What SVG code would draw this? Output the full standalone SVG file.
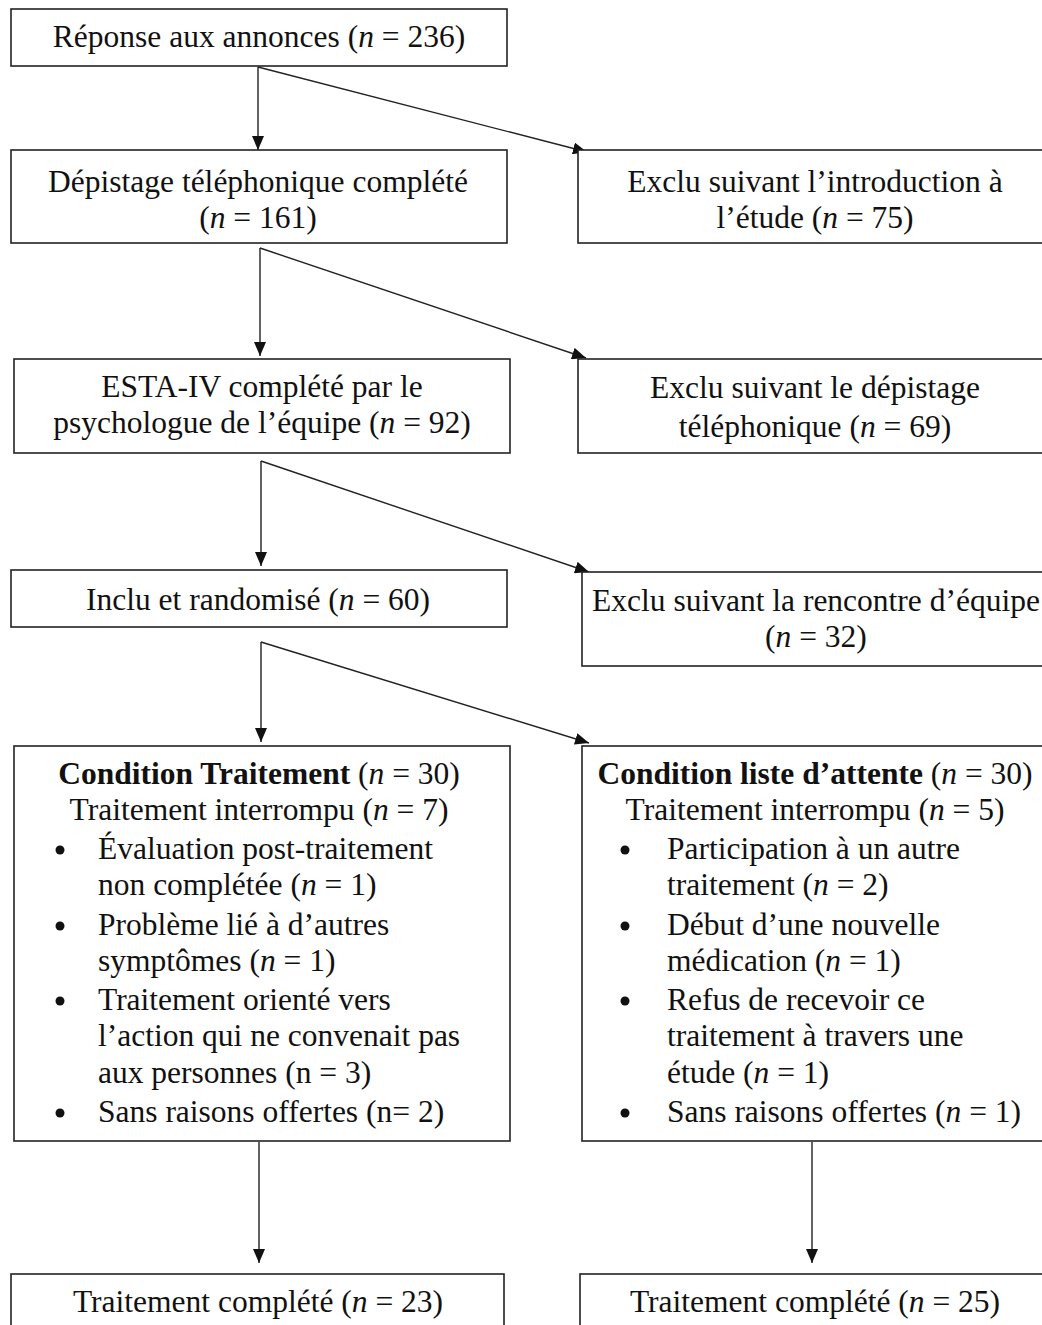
<svg xmlns="http://www.w3.org/2000/svg" width="1042" height="1325" viewBox="0 0 1042 1325">
<defs>
<marker id="ah" markerUnits="userSpaceOnUse" markerWidth="14" markerHeight="12" refX="14" refY="6" orient="auto" viewBox="0 0 14 12">
<path d="M0,0 L14,6 L0,12 z" fill="#111"/>
</marker>
</defs>
<style>
.box{fill:#fff;stroke:#222;stroke-width:1.6}
.t{font-family:"Liberation Serif","Times New Roman",serif;font-size:31.5px;fill:#111}
.c{text-anchor:middle}
.i{font-style:italic}
.b{font-weight:bold}
.con{stroke:#222;stroke-width:1.4;fill:none;marker-end:url(#ah)}
.dot{fill:#111}
</style>
<rect width="1042" height="1325" fill="#fff"/>
<g id="connectors">
<line class="con" x1="258" y1="67" x2="258" y2="150"/>
<line class="con" x1="258" y1="67" x2="587" y2="152"/>
<line class="con" x1="260" y1="248" x2="260" y2="356"/>
<line class="con" x1="260" y1="248" x2="586" y2="358"/>
<line class="con" x1="261" y1="461" x2="261" y2="566"/>
<line class="con" x1="261" y1="461" x2="589" y2="572"/>
<line class="con" x1="261" y1="642" x2="261" y2="742"/>
<line class="con" x1="261" y1="642" x2="589" y2="743"/>
<line class="con" x1="259" y1="1142" x2="259" y2="1263"/>
<line class="con" x1="812" y1="1142" x2="812" y2="1263"/>
</g>
<g id="n1">
<rect class="box" x="11" y="9" width="496" height="57"/>
<text class="t c" x="259" y="47">Réponse aux annonces (<tspan class="i">n</tspan> = 236)</text>
</g>
<g id="n2">
<rect class="box" x="11" y="150" width="496" height="93"/>
<text class="t c" x="258" y="192">Dépistage téléphonique complété</text>
<text class="t c" x="258" y="228">(<tspan class="i">n</tspan> = 161)</text>
</g>
<g id="n3">
<rect class="box" x="578" y="150" width="480" height="93"/>
<text class="t c" x="815" y="192">Exclu suivant l’introduction à</text>
<text class="t c" x="815" y="228">l’étude (<tspan class="i">n</tspan> = 75)</text>
</g>
<g id="n4">
<rect class="box" x="14" y="359" width="496" height="94"/>
<text class="t c" x="262" y="397">ESTA-IV complété par le</text>
<text class="t c" x="262" y="433">psychologue de l’équipe (<tspan class="i">n</tspan> = 92)</text>
</g>
<g id="n5">
<rect class="box" x="578" y="359" width="480" height="94"/>
<text class="t c" x="815" y="398">Exclu suivant le dépistage</text>
<text class="t c" x="815" y="437">téléphonique (<tspan class="i">n</tspan> = 69)</text>
</g>
<g id="n6">
<rect class="box" x="11" y="570" width="496" height="57"/>
<text class="t c" x="258" y="610">Inclu et randomisé (<tspan class="i">n</tspan> = 60)</text>
</g>
<g id="n7">
<rect class="box" x="582" y="572" width="476" height="94"/>
<text class="t c" x="816" y="611">Exclu suivant la rencontre d’équipe</text>
<text class="t c" x="816" y="647">(<tspan class="i">n</tspan> = 32)</text>
</g>
<g id="n8">
<rect class="box" x="14" y="746" width="496" height="395"/>
<text class="t c" x="259" y="784"><tspan class="b">Condition Traitement</tspan> (<tspan class="i">n</tspan> = 30)</text>
<text class="t c" x="259" y="820">Traitement interrompu (<tspan class="i">n</tspan> = 7)</text>
<circle class="dot" cx="60" cy="850" r="4.5"/>
<text class="t" x="98" y="859">Évaluation post-traitement</text>
<text class="t" x="98" y="895">non complétée (<tspan class="i">n</tspan> = 1)</text>
<circle class="dot" cx="60" cy="926" r="4.5"/>
<text class="t" x="98" y="935">Problème lié à d’autres</text>
<text class="t" x="98" y="971">symptômes (<tspan class="i">n</tspan> = 1)</text>
<circle class="dot" cx="60" cy="1001" r="4.5"/>
<text class="t" x="98" y="1010">Traitement orienté vers</text>
<text class="t" x="98" y="1046">l’action qui ne convenait pas</text>
<text class="t" x="98" y="1083">aux personnes (n = 3)</text>
<circle class="dot" cx="60" cy="1113" r="4.5"/>
<text class="t" x="98" y="1122">Sans raisons offertes (n= 2)</text>
</g>
<g id="n9">
<rect class="box" x="582" y="746" width="476" height="395"/>
<text class="t c" x="815" y="784"><tspan class="b">Condition liste d’attente</tspan> (<tspan class="i">n</tspan> = 30)</text>
<text class="t c" x="815" y="820">Traitement interrompu (<tspan class="i">n</tspan> = 5)</text>
<circle class="dot" cx="625" cy="850" r="4.5"/>
<text class="t" x="667" y="859">Participation à un autre</text>
<text class="t" x="667" y="895">traitement (<tspan class="i">n</tspan> = 2)</text>
<circle class="dot" cx="625" cy="926" r="4.5"/>
<text class="t" x="667" y="935">Début d’une nouvelle</text>
<text class="t" x="667" y="971">médication (<tspan class="i">n</tspan> = 1)</text>
<circle class="dot" cx="625" cy="1001" r="4.5"/>
<text class="t" x="667" y="1010">Refus de recevoir ce</text>
<text class="t" x="667" y="1046">traitement à travers une</text>
<text class="t" x="667" y="1083">étude (<tspan class="i">n</tspan> = 1)</text>
<circle class="dot" cx="625" cy="1113" r="4.5"/>
<text class="t" x="667" y="1122">Sans raisons offertes (<tspan class="i">n</tspan> = 1)</text>
</g>
<g id="n10">
<rect class="box" x="11" y="1274" width="493" height="70"/>
<text class="t c" x="258" y="1312">Traitement complété (<tspan class="i">n</tspan> = 23)</text>
</g>
<g id="n11">
<rect class="box" x="580" y="1274" width="478" height="70"/>
<text class="t c" x="815" y="1312">Traitement complété (<tspan class="i">n</tspan> = 25)</text>
</g>
</svg>
